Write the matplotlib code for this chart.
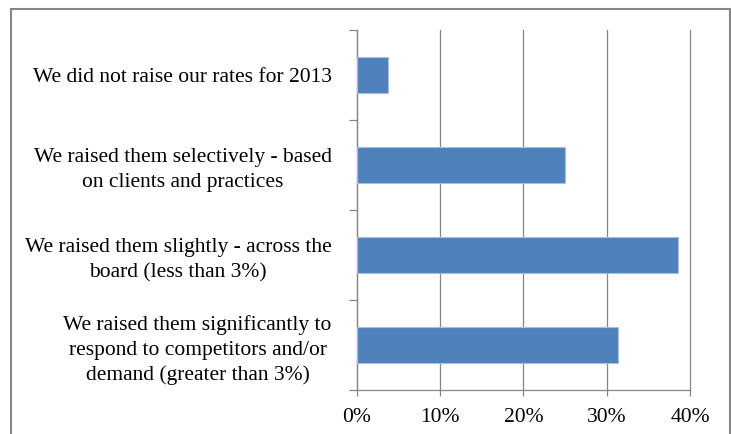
import matplotlib.pyplot as plt
from matplotlib.patches import Rectangle
from matplotlib.ticker import FuncFormatter, FixedLocator

# Survey answers (top to bottom) and share of respondents
categories = [
    "We did not raise our rates for 2013",
    "We raised them selectively - based\non clients and practices",
    "We raised them slightly - across the\nboard (less than 3%)",
    "We raised them significantly to\nrespond to competitors and/or\ndemand (greater than 3%)",
]
shares = [0.038, 0.25, 0.386, 0.313]
x_ticks = [0, 0.1, 0.2, 0.3, 0.4]

plt.rcParams['font.family'] = ['Liberation Serif', 'DejaVu Serif']

fig = plt.figure(figsize=(7.31, 4.34), dpi=100)
ax = fig.add_axes([0.488, 0.1014, 0.456, 0.8296])

pos = list(range(len(categories)))
ax.barh(pos, shares, height=0.4, color='#4F81BD', edgecolor='#A7C0DE', linewidth=0.8, zorder=3)

ax.set_xlim(0, 0.4)
ax.set_ylim(len(categories) - 0.5, -0.5)

ax.xaxis.set_major_locator(FixedLocator(x_ticks))
ax.xaxis.set_major_formatter(FuncFormatter(lambda v, p: f"{v:.0%}"))
ax.grid(axis='x', color='#868686', linewidth=0.9, zorder=0)

# tick marks at category boundaries, labels at bar centres
ax.set_yticks([i - 0.5 for i in range(len(categories) + 1)])
ax.set_yticklabels([])
ax.set_yticks(pos, minor=True)
ax.set_yticklabels(categories, minor=True, fontsize=15.5)
for t in ax.get_yticklabels(minor=True):
    t.set_multialignment('center')
    t.set_linespacing(1.38)
ax.tick_params(axis='y', which='minor', length=0, pad=18)
ax.tick_params(axis='y', which='major', length=6, color='#868686', width=0.9)
ax.tick_params(axis='x', length=4, color='#868686', width=0.9, labelsize=15.5, pad=9)
for g in ax.get_xgridlines():
    g.set_clip_on(False)

for s in ['top', 'right']:
    ax.spines[s].set_visible(False)
for s in ['left', 'bottom']:
    ax.spines[s].set_color('#868686')
    ax.spines[s].set_linewidth(0.9)

# outer chart border
fig.patches.append(Rectangle((11 / 731, -0.05), 719 / 731, 1.05 - 9 / 434,
                             transform=fig.transFigure, fill=False,
                             edgecolor='#868686', linewidth=1.5))

fig.savefig('out.png', dpi=100)
